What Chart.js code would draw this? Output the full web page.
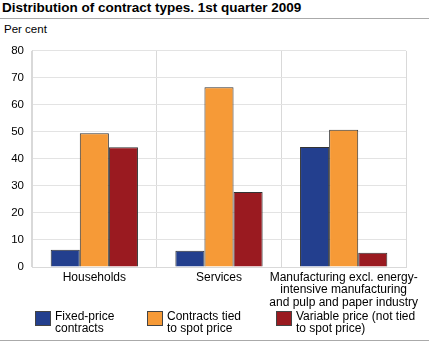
<!DOCTYPE html>
<html>
<head>
<meta charset="utf-8">
<script src="https://cdn.jsdelivr.net/npm/chart.js@4/dist/chart.umd.min.js"></script>
<style>
    body { margin: 0; width: 429px; height: 346px; background: #fff; font-family: "Liberation Sans", Arial, sans-serif; position: relative; overflow: hidden; }
    #title { position: absolute; left: 2px; top: 0px; font-size: 13.5px; font-weight: bold; color: #000; }
    #rule1 { position: absolute; left: 0; top: 18px; width: 429px; height: 1px; background: #aaa; }
    #unit { position: absolute; left: 4px; top: 23px; font-size: 11.5px; color: #000; }
    #wrap { position: absolute; left: 0; top: 36px; width: 429px; height: 275px; }
    .leg { position: absolute; top: 311px; font-size: 12px; line-height: 12px; color: #000; }
    .leg span { position: absolute; left: 0; top: 0; width: 16px; height: 15px; border: 1px solid #444; box-sizing: border-box; }
    .leg div { position: absolute; left: 20px; top: -1px; white-space: nowrap; }
    #rule2 { position: absolute; left: 0; top: 340px; width: 429px; height: 1px; background: #aaa; }
</style>
</head>
<body>
<div id="title">Distribution of contract types. 1st quarter 2009</div>
<div id="rule1"></div>
<div id="unit">Per cent</div>
<div id="wrap"><canvas id="barChart" width="429" height="275"></canvas></div>
<div id="legend"></div>
<div id="rule2"></div>
<script>
var categories = [
    "Households",
    "Services",
    ["Manufacturing excl. energy-", "intensive manufacturing", "and pulp and paper industry"]
];
var series_names = [
    ["Fixed-price", "contracts"],
    ["Contracts tied", "to spot price"],
    ["Variable price (not tied", "to spot price)"]
];
var fixed_price = [6.4, 6.0, 44.4];
var spot_price = [49.5, 66.5, 50.8];
var variable_price = [44.3, 27.8, 5.3];
var y_ticks = [0, 10, 20, 30, 40, 50, 60, 70, 80];

var colors = ["#233f8e", "#f69a37", "#9a1a20"];
var legend_x = [35, 147, 276];

//-------------
//- BAR CHART -
//-------------
var barData = {
    labels: categories,
    datasets: [fixed_price, spot_price, variable_price].map((d, i) => ({
        label: series_names[i].join(" "),
        data: d,
        backgroundColor: colors[i],
        borderColor: "#333",
        borderWidth: 1,
        barPercentage: 1,
        categoryPercentage: 0.7,
    })),
};

var barOptions = {
    responsive: false,
    animation: false,
    layout: { padding: { top: 8, right: 23, left: 0, bottom: 0 } },
    plugins: { legend: { display: false }, tooltip: { enabled: false } },
    scales: {
        x: {
            grid: { offset: true, color: "#d9d9d9", drawTicks: false },
            border: { color: "#d9d9d9" },
            ticks: {
                color: "#000",
                font: { family: "Liberation Sans", size: 12, lineHeight: "12.5px" },
                padding: 4,
                maxRotation: 0,
                autoSkip: false,
            },
            afterFit: (s) => { s.height = 44; },
        },
        y: {
            min: 0,
            max: 80,
            afterBuildTicks: (s) => { s.ticks = y_ticks.map((v) => ({ value: v })); },
            grid: { color: "#e3e3e3", drawTicks: false },
            border: { color: "#d9d9d9" },
            ticks: {
                color: "#000",
                font: { family: "Liberation Sans", size: 11.5 },
                padding: 8,
            },
            afterFit: (s) => { s.width = 32; },
        },
    },
};

new Chart(document.getElementById("barChart").getContext("2d"), {
    type: "bar",
    data: barData,
    options: barOptions,
});

// legend
var legend = document.getElementById("legend");
series_names.forEach((name, i) => {
    var el = document.createElement("div");
    el.className = "leg";
    el.style.left = legend_x[i] + "px";
    var box = document.createElement("span");
    box.style.background = colors[i];
    var txt = document.createElement("div");
    txt.innerHTML = name.join("<br>");
    el.appendChild(box);
    el.appendChild(txt);
    legend.appendChild(el);
});
</script>
</body>
</html>
